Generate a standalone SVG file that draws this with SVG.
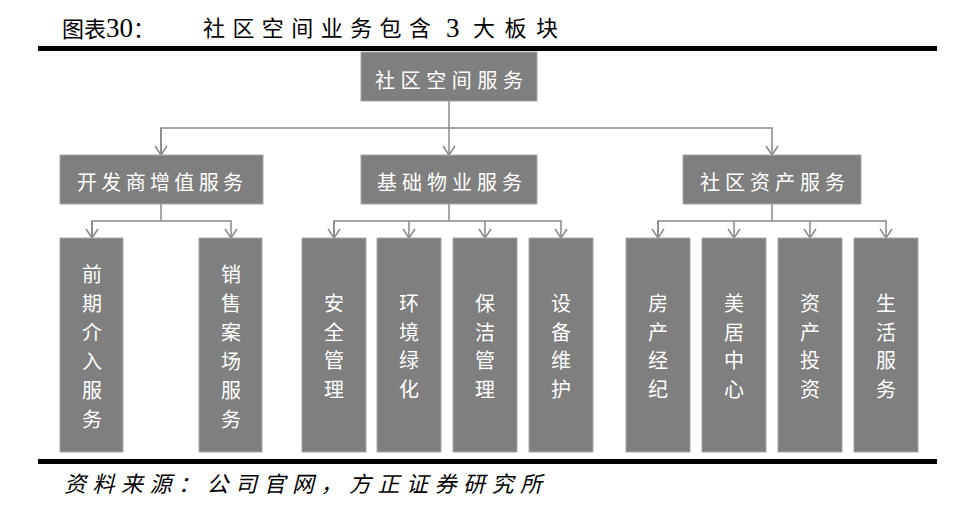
<svg xmlns="http://www.w3.org/2000/svg" width="974" height="528" viewBox="0 0 974 528">
<defs>
<style>
.bg{fill:#ffffff}
.rule{fill:#000000}
.title{font-family:"Liberation Serif","Noto Sans CJK SC",serif;font-size:22px;fill:#000000}
.num{font-size:27px}
.src{font-family:"Liberation Serif","Noto Sans CJK SC",serif;font-size:22px;font-style:italic;fill:#000000}
.box{fill:#7f7f7f;stroke:#a8a8a8;stroke-width:1}
.lbl{font-family:"Noto Sans CJK SC",sans-serif;font-size:20px;fill:#ffffff;text-anchor:middle;dominant-baseline:central}
.conn{fill:none;stroke:#888888;stroke-width:1.5}
</style>
<marker id="arr" viewBox="-10 -7 11 14" refX="0" refY="0" markerWidth="11" markerHeight="14" markerUnits="userSpaceOnUse" orient="auto">
<path d="M-9,-6 L0,0 L-9,6" fill="none" stroke="#888888" stroke-width="1.5"/>
</marker>
</defs>
<rect class="bg" x="0" y="0" width="974" height="528"/>
<g id="header">
<text class="title" x="62" y="37">图表<tspan class="num">30</tspan>：</text>
<text class="title" x="203" y="28" dominant-baseline="central" textLength="228" lengthAdjust="spacing">社区空间业务包含</text>
<text class="title num" x="446" y="37">3</text>
<text class="title" x="473" y="28" dominant-baseline="central" textLength="85" lengthAdjust="spacing">大板块</text>
<rect class="rule" x="38" y="46" width="899" height="5"/>
</g>
<g id="connectors">
<path class="conn" d="M449,101 V155" marker-end="url(#arr)"/>
<path class="conn" d="M161,155 V128 H772 V155" marker-end="url(#arr)"/>
<path class="conn" d="M161,128 V155" marker-end="url(#arr)"/>
<path class="conn" d="M161,204 V221"/>
<path class="conn" d="M92,238 V221 H231 V238" marker-end="url(#arr)"/>
<path class="conn" d="M92,221 V238" marker-end="url(#arr)"/>
<path class="conn" d="M449,204 V221"/>
<path class="conn" d="M334,238 V221 H561 V238" marker-end="url(#arr)"/>
<path class="conn" d="M334,221 V238" marker-end="url(#arr)"/>
<path class="conn" d="M409,221 V238" marker-end="url(#arr)"/>
<path class="conn" d="M485,221 V238" marker-end="url(#arr)"/>
<path class="conn" d="M772,204 V221"/>
<path class="conn" d="M658,238 V221 H886 V238" marker-end="url(#arr)"/>
<path class="conn" d="M658,221 V238" marker-end="url(#arr)"/>
<path class="conn" d="M734,221 V238" marker-end="url(#arr)"/>
<path class="conn" d="M810,221 V238" marker-end="url(#arr)"/>
</g>
<g id="n-root">
<rect class="box" x="361" y="52" width="176" height="49"/>
<text class="lbl" x="449" y="79" textLength="148" lengthAdjust="spacing">社区空间服务</text>
</g>
<g id="n-dev">
<rect class="box" x="60" y="155" width="203" height="49"/>
<text class="lbl" x="160" y="181" textLength="166" lengthAdjust="spacing">开发商增值服务</text>
</g>
<g id="n-prop">
<rect class="box" x="361" y="155" width="176" height="49"/>
<text class="lbl" x="449.5" y="181" textLength="145" lengthAdjust="spacing">基础物业服务</text>
</g>
<g id="n-asset">
<rect class="box" x="683" y="155" width="178" height="49"/>
<text class="lbl" x="772.5" y="181" textLength="145" lengthAdjust="spacing">社区资产服务</text>
</g>
<g id="n-qiqi">
<rect class="box" x="60" y="238" width="63" height="214"/>
<text class="lbl"><tspan x="92" y="273">前</tspan><tspan x="92" y="302">期</tspan><tspan x="92" y="331">介</tspan><tspan x="92" y="360">入</tspan><tspan x="92" y="389">服</tspan><tspan x="92" y="418">务</tspan></text>
</g>
<g id="n-xiaoshou">
<rect class="box" x="199" y="238" width="63" height="214"/>
<text class="lbl"><tspan x="231" y="273">销</tspan><tspan x="231" y="302">售</tspan><tspan x="231" y="331">案</tspan><tspan x="231" y="360">场</tspan><tspan x="231" y="389">服</tspan><tspan x="231" y="418">务</tspan></text>
</g>
<g id="n-anquan">
<rect class="box" x="302" y="238" width="64" height="214"/>
<text class="lbl"><tspan x="334" y="302">安</tspan><tspan x="334" y="331">全</tspan><tspan x="334" y="359">管</tspan><tspan x="334" y="388">理</tspan></text>
</g>
<g id="n-huanjing">
<rect class="box" x="377" y="238" width="64" height="214"/>
<text class="lbl"><tspan x="409" y="302">环</tspan><tspan x="409" y="331">境</tspan><tspan x="409" y="359">绿</tspan><tspan x="409" y="388">化</tspan></text>
</g>
<g id="n-baojie">
<rect class="box" x="453" y="238" width="64" height="214"/>
<text class="lbl"><tspan x="485" y="302">保</tspan><tspan x="485" y="331">洁</tspan><tspan x="485" y="359">管</tspan><tspan x="485" y="388">理</tspan></text>
</g>
<g id="n-shebei">
<rect class="box" x="529" y="238" width="64" height="214"/>
<text class="lbl"><tspan x="561" y="302">设</tspan><tspan x="561" y="331">备</tspan><tspan x="561" y="359">维</tspan><tspan x="561" y="388">护</tspan></text>
</g>
<g id="n-fangchan">
<rect class="box" x="626" y="238" width="64" height="214"/>
<text class="lbl"><tspan x="658" y="302">房</tspan><tspan x="658" y="331">产</tspan><tspan x="658" y="359">经</tspan><tspan x="658" y="388">纪</tspan></text>
</g>
<g id="n-meiju">
<rect class="box" x="702" y="238" width="64" height="214"/>
<text class="lbl"><tspan x="734" y="302">美</tspan><tspan x="734" y="331">居</tspan><tspan x="734" y="359">中</tspan><tspan x="734" y="388">心</tspan></text>
</g>
<g id="n-zichan">
<rect class="box" x="778" y="238" width="64" height="214"/>
<text class="lbl"><tspan x="810" y="302">资</tspan><tspan x="810" y="331">产</tspan><tspan x="810" y="359">投</tspan><tspan x="810" y="388">资</tspan></text>
</g>
<g id="n-shenghuo">
<rect class="box" x="854" y="238" width="64" height="214"/>
<text class="lbl"><tspan x="886" y="302">生</tspan><tspan x="886" y="331">活</tspan><tspan x="886" y="359">服</tspan><tspan x="886" y="388">务</tspan></text>
</g>
<g id="footer">
<rect class="rule" x="38" y="459" width="899" height="5"/>
<text class="src" x="64" y="484" dominant-baseline="central" textLength="478" lengthAdjust="spacing">资料来源：公司官网，方正证券研究所</text>
</g>
</svg>
